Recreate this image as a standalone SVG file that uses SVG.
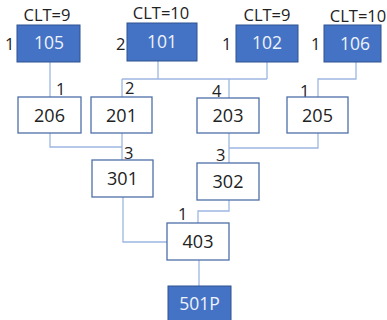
<svg xmlns="http://www.w3.org/2000/svg" width="387" height="320" viewBox="0 0 387 320">
<style>
.blue{fill:#4472C4;stroke:#2F528F;stroke-width:1}
.white{fill:#fff;stroke:#4F6FA8;stroke-width:1.3}
.wt{font-family:"Open Sans","Liberation Sans",sans-serif;font-size:17.5px;fill:#EEF2FA;text-anchor:middle}
.bt{font-family:"Open Sans","Liberation Sans",sans-serif;font-size:18px;fill:#222;text-anchor:middle}
.lb{font-family:"Open Sans","Liberation Sans",sans-serif;font-size:16.5px;fill:#222}
.c{fill:none;stroke:#9DB7E3;stroke-width:1.3}
</style>
<rect width="387" height="320" fill="#fff"/>
<g id="connectors">
<path class="c" d="M50,62V97"/>
<path class="c" d="M158,61V79M267,62V79M122,79H267M122,79V97M229,79V98"/>
<path class="c" d="M356,62V79H318V97"/>
<path class="c" d="M50,133V147H122M122,133V160"/>
<path class="c" d="M229,133V163M318,133V148H229"/>
<path class="c" d="M123,197V242H167"/>
<path class="c" d="M229,200V211H198V223"/>
<path class="c" d="M199,260V286"/>
</g>
<g id="lbl">
<text class="lb" x="56" y="95">1</text>
<text class="lb" x="125" y="94">2</text>
<text class="lb" x="212" y="97">4</text>
<text class="lb" x="300" y="97">1</text>
<text class="lb" x="124" y="159">3</text>
<text class="lb" x="216" y="161">3</text>
<text class="lb" x="178" y="220">1</text>
</g>
<g id="n105"><text class="lb" x="47" y="21" text-anchor="middle">CLT=9</text><text class="lb" x="5" y="50">1</text><rect class="blue" x="17" y="25" width="63" height="37"/><text class="wt" x="49" y="49">105</text></g>
<g id="n101"><text class="lb" x="161" y="19" text-anchor="middle">CLT=10</text><text class="lb" x="116" y="50">2</text><rect class="blue" x="127" y="23" width="70" height="38"/><text class="wt" x="162" y="48">101</text></g>
<g id="n102"><text class="lb" x="267" y="21" text-anchor="middle">CLT=9</text><text class="lb" x="222" y="50">1</text><rect class="blue" x="236" y="25" width="62" height="37"/><text class="wt" x="267" y="49">102</text></g>
<g id="n106"><text class="lb" x="358" y="22" text-anchor="middle">CLT=10</text><text class="lb" x="311" y="50">1</text><rect class="blue" x="324" y="25" width="57" height="37"/><text class="wt" x="355" y="50">106</text></g>
<g id="n206"><rect class="white" x="18" y="97" width="63" height="36"/><text class="bt" x="49.5" y="122">206</text></g>
<g id="n201"><rect class="white" x="91" y="97" width="61" height="36"/><text class="bt" x="121.5" y="122">201</text></g>
<g id="n203"><rect class="white" x="197" y="98" width="62" height="35"/><text class="bt" x="228" y="122">203</text></g>
<g id="n205"><rect class="white" x="287" y="97" width="61" height="36"/><text class="bt" x="317.5" y="122">205</text></g>
<g id="n301"><rect class="white" x="92" y="160" width="61" height="37"/><text class="bt" x="122.5" y="185">301</text></g>
<g id="n302"><rect class="white" x="197" y="163" width="62" height="37"/><text class="bt" x="228" y="188">302</text></g>
<g id="n403"><rect class="white" x="167" y="223" width="62" height="37"/><text class="bt" x="198" y="248">403</text></g>
<g id="n501P"><rect class="blue" x="168" y="286" width="63" height="40"/><text class="wt" x="199.5" y="310">501P</text></g>
</svg>
